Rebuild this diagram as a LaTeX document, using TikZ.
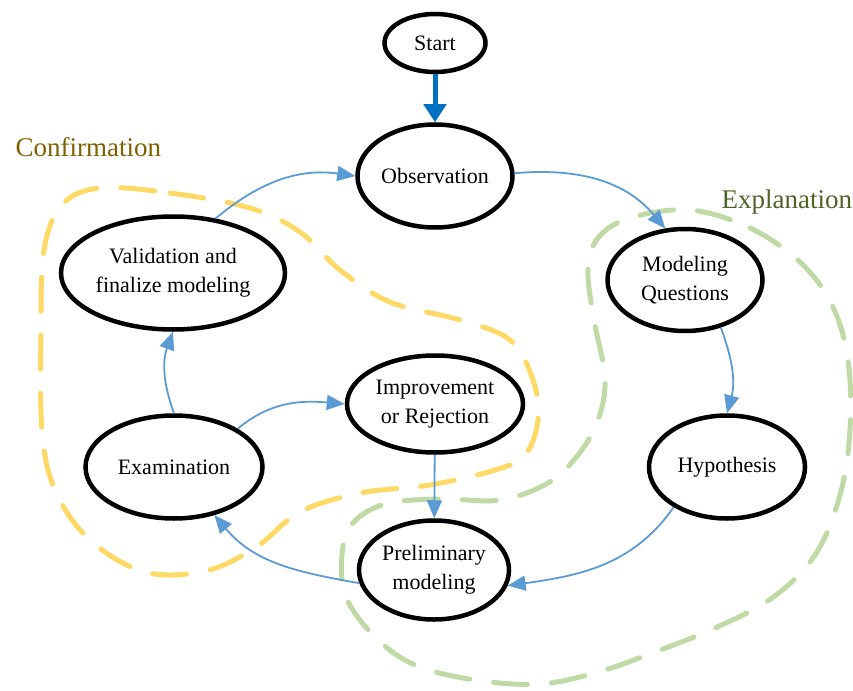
\documentclass[tikz,border=0pt]{standalone}
\usepackage{fontspec}
\setmainfont{Liberation Serif}
\usetikzlibrary{arrows.meta, shapes.geometric}

\definecolor{flowblue}{HTML}{5B9BD5}
\definecolor{startblue}{HTML}{0070C0}
\definecolor{confirmyellow}{HTML}{FFD966}
\definecolor{explaingreen}{HTML}{C0DAA6}
\definecolor{confirmtext}{HTML}{7F6000}
\definecolor{explaintext}{HTML}{4F6228}

\begin{document}
\begin{tikzpicture}[
    x=1pt, y=-1pt,
    stage/.style={ellipse, draw=black, line width=4.5pt, fill=white,
    inner sep=0pt, align=center, font=\fontsize{22}{29}\selectfont},
    flow/.style={->, draw=flowblue, line width=1.8pt,
    >={Triangle[length=18pt, width=15pt]}},
    start flow/.style={->, draw=startblue, line width=5pt,
    >={Triangle[length=18pt, width=22pt]}},
    confirm line/.style={draw=confirmyellow, line width=5pt, line cap=round,
    dash pattern=on 34pt off 24pt},
    explain line/.style={draw=explaingreen, line width=5pt, line cap=round,
    dash pattern=on 34pt off 24pt},
    group label/.style={anchor=base west, font=\fontsize{27}{30}\selectfont}
    ]
    \useasboundingbox (0,0) rectangle (853,690);
    % Groups
    \draw[confirm line] plot[smooth cycle, tension=0.6] coordinates {
        (100,188) (170,193) (250,208) (300,232) (340,270) (390,302)
        (460,320) (510,340) (533,380) (538,420) (525,455) (495,470)
        (430,485) (360,493) (300,512) (255,548) (205,571) (145,572)
        (90,540) (55,490) (42,430) (41,330) (44,250) (62,205)};
    \draw[explain line] plot[smooth cycle, tension=0.6] coordinates {
        (690,210) (750,228) (800,262) (832,305) (848,360) (850,430)
        (840,495) (815,555) (772,598) (715,628) (655,652) (598,672)
        (540,684) (475,680) (415,665) (375,637) (346,597) (342,555)
        (352,524) (385,504) (440,499) (500,500) (548,483) (578,455)
        (598,420) (605,378) (594,320) (588,270) (598,238) (630,218)};
    \node[group label, text=confirmtext] (conf) at (12,156) {Confirmation};
    \node[group label, text=explaintext] (expl) at (718,208) {Explanation};
    % Stages
    \node[stage, minimum width=101pt, minimum height=58pt] (start) at (435,43) {Start};
    \node[stage, minimum width=155pt, minimum height=103pt] (obs) at (435,176) {Observation};
    \node[stage, minimum width=155pt, minimum height=102pt] (mq) at (685,280) {Modeling\\Questions};
    \node[stage, minimum width=156pt, minimum height=103pt] (hyp) at (727,467) {Hypothesis};
    \node[stage, minimum width=176pt, minimum height=97pt] (imp) at (435,404) {Improvement\\or Rejection};
    \node[stage, minimum width=150pt, minimum height=99pt] (prelim) at (434,570) {Preliminary\\modeling};
    \node[stage, minimum width=177pt, minimum height=103pt] (exam) at (174,467) {Examination};
    \node[stage, minimum width=224pt, minimum height=113pt] (valid) at (173,273) {Validation and\\finalize modeling};
    % Arrows
    \draw[start flow] (start) -- (obs);
    \draw[flow] (obs.2) to[out=5, in=130] (mq.111);
    \draw[flow] (mq.-53) to[out=-70, in=75] (hyp.north);
    \draw[flow] (hyp.217) to[out=235, in=8] (prelim.-12);
    \draw[flow] (prelim.190) to[out=170, in=-50] (exam.-50);
    \draw[flow] (exam.north) to[out=110, in=-110] (valid.south);
    \draw[flow] (valid.52) to[out=40, in=172] (obs.west);
    \draw[flow] (exam.31) to[out=40, in=175] (imp.west);
    \draw[flow] (imp) -- (prelim);
\end{tikzpicture}
\end{document}
